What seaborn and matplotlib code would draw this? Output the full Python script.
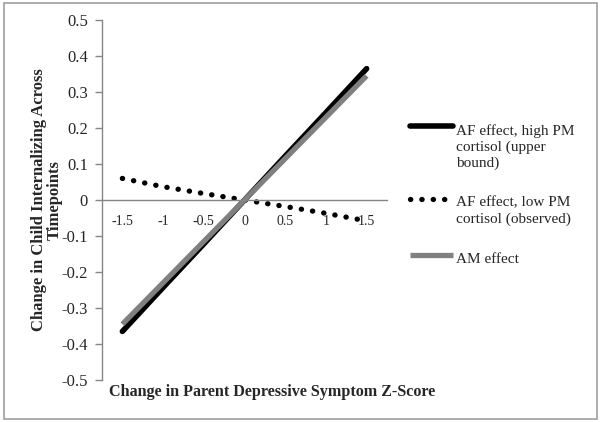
"""
Parent depressive symptom change vs child internalizing change
"""

import numpy as np
import pandas as pd
import matplotlib
matplotlib.use("Agg")
import matplotlib.pyplot as plt
import seaborn as sns
from matplotlib.legend_handler import HandlerLine2D
from matplotlib.transforms import Affine2D

# Data
x_vals = [-1.5, -1.0, -0.5, 0.0, 0.5, 1.0, 1.5]
af_high = [-0.365, -0.243, -0.122, 0.0, 0.122, 0.243, 0.365]
af_low = [0.060, 0.037, 0.018, 0.0, -0.018, -0.037, -0.058]
am_effect = [-0.345, -0.230, -0.115, 0.0, 0.115, 0.230, 0.345]

x_tick_labels = ["-1.5", "-1", "-0.5", "0", "0.5", "1", "1.5"]
y_ticks = [0.5, 0.4, 0.3, 0.2, 0.1, 0.0, -0.1, -0.2, -0.3, -0.4, -0.5]
y_tick_labels = ["0.5", "0.4", "0.3", "0.2", "0.1", "0", "-0.1", "-0.2", "-0.3", "-0.4", "-0.5"]

LABELS = {
    "high": "AF effect, high PM\ncortisol (upper\nbound)",
    "low": "AF effect, low PM\ncortisol (observed)",
    "am": "AM effect",
}


class ShiftedLine(HandlerLine2D):
    """Legend line moved up so it sits next to the first line of a multi-line label"""

    def __init__(self, dy, **kw):
        super().__init__(**kw)
        self.dy = dy

    def create_artists(self, legend, orig_handle, xdescent, ydescent, width, height,
                       fontsize, trans):
        arts = super().create_artists(legend, orig_handle, xdescent, ydescent, width,
                                      height, fontsize, trans)
        shifted = Affine2D().translate(0, self.dy) + trans
        for a in arts:
            a.set_transform(shifted)
        return arts


sns.set_style("white")
plt.rcParams["font.family"] = ["Liberation Serif", "DejaVu Serif"]
plt.rcParams["axes.unicode_minus"] = False

fig = plt.figure(figsize=(6, 4.22), dpi=100)
ax = fig.add_axes([0.17, 0.0995, 0.475, 0.853])

df = pd.DataFrame({"x": x_vals, "high": af_high, "low": af_low, "am": am_effect})

sns.lineplot(data=df, x="x", y="high", ax=ax, color="black", lw=4.0,
             solid_capstyle="round", label=LABELS["high"])
sns.lineplot(data=df, x="x", y="low", ax=ax, color="black", lw=3.8,
             linestyle=(0, (0.05, 2.1)), dash_capstyle="round", label=LABELS["low"])
sns.lineplot(data=df, x="x", y="am", ax=ax, color="#808080", lw=3.8,
             solid_capstyle="butt", label=LABELS["am"])

ax.set_xlim(-1.75, 1.75)
ax.set_ylim(-0.5, 0.5)
ax.set_yticks(y_ticks)
ax.set_yticklabels(y_tick_labels, fontsize=12)
ax.set_xticks(x_vals)
ax.set_xticklabels(x_tick_labels, fontsize=12)
ax.set_xticks(np.arange(-1.25, 1.76, 0.5), minor=True)
ax.tick_params(axis="x", which="major", length=0, pad=11)
ax.tick_params(axis="x", which="minor", length=5, width=1, color="#868686", direction="out")
ax.tick_params(axis="y", length=5, width=1, color="#868686", direction="out", pad=5, left=True)

for side in ["top", "right"]:
    ax.spines[side].set_visible(False)
ax.spines["bottom"].set_position(("data", 0))
for side in ["left", "bottom"]:
    ax.spines[side].set_color("#868686")
    ax.spines[side].set_linewidth(1)

ax.set_xlabel("")
ax.set_ylabel("Change in Child Internalizing Across\nTimepoints", fontsize=12,
              fontweight="bold", labelpad=-1, linespacing=1.0)
fig.text(0.453, 0.071, "Change in Parent Depressive Symptom Z-Score", fontsize=11.6,
         fontweight="bold", ha="center", va="center")

handles, labels = ax.get_legend_handles_labels()
ax.get_legend().remove()
line_step = 12.6  # points between label lines
shifts = [line_step * (lab.count("\n")) / 2 + 2 for lab in labels]
leg = fig.legend(handles, labels, loc="upper left", bbox_to_anchor=(0.683, 1 - 124 / 422),
                 frameon=False, fontsize=11, handlelength=2.85, handletextpad=0.2,
                 labelspacing=1.75, borderpad=0, borderaxespad=0,
                 handler_map={h: ShiftedLine(s) for h, s in zip(handles, shifts)})
for t in leg.get_texts():
    t.set_linespacing(1.25)

# figure border
fig.patches.append(plt.Rectangle((0.007, 0.007), 0.988, 0.985, transform=fig.transFigure,
                                 fill=False, edgecolor="#a0a0a0", lw=1.2))

fig.savefig("out.png", dpi=100)
